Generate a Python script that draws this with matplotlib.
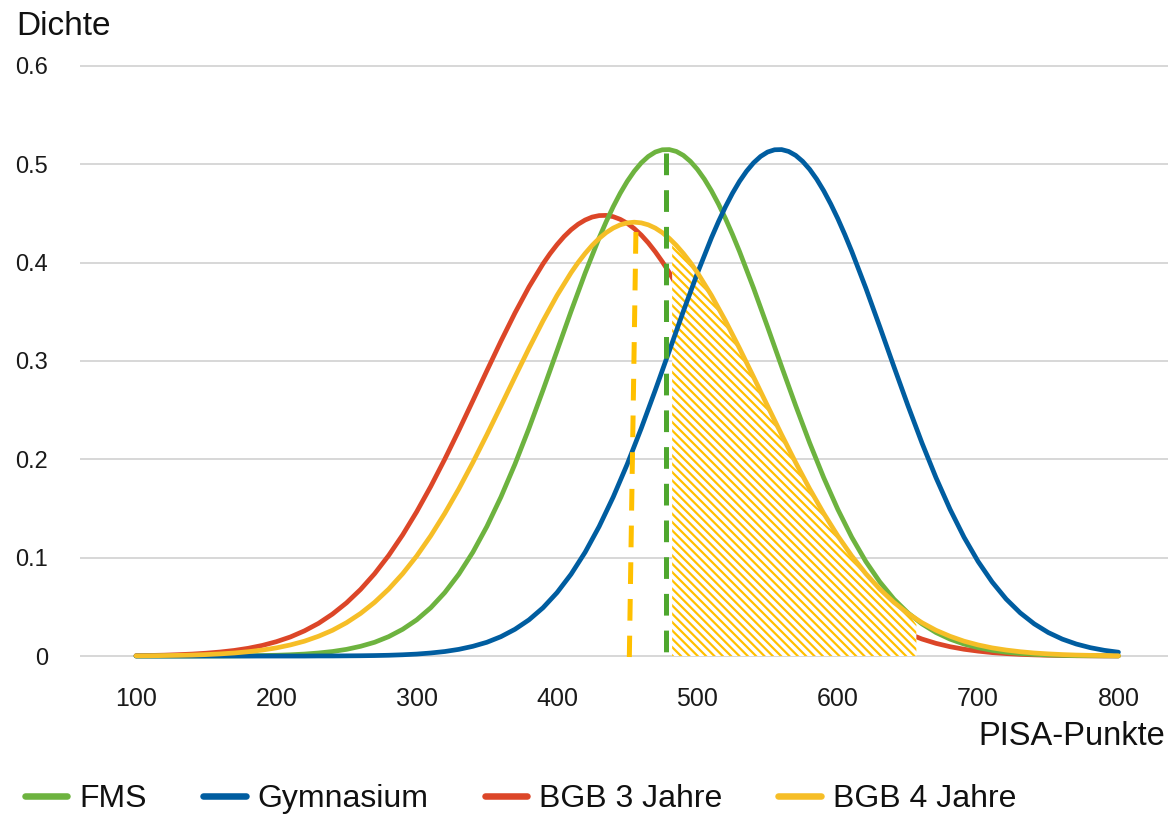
import matplotlib
matplotlib.use("Agg")
import matplotlib.pyplot as plt

plt.rcParams['font.family'] = ['Liberation Sans', 'DejaVu Sans']
plt.rcParams['hatch.linewidth'] = 1.6

# ---------------- data ----------------
pisa = list(range(100, 801, 10))

fms = [0.0000, 0.0000, 0.0000, 0.0000, 0.0000, 0.0001, 0.0001, 0.0002, 0.0003, 0.0005,
       0.0008, 0.0013, 0.0020, 0.0031, 0.0046, 0.0068, 0.0099, 0.0140, 0.0197, 0.0272,
       0.0368, 0.0491, 0.0645, 0.0832, 0.1055, 0.1317, 0.1616, 0.1950, 0.2315, 0.2703,
       0.3103, 0.3505, 0.3892, 0.4251, 0.4567, 0.4825, 0.5013, 0.5123, 0.5148, 0.5089,
       0.4947, 0.4729, 0.4447, 0.4112, 0.3740, 0.3345, 0.2942, 0.2546, 0.2166, 0.1813,
       0.1492, 0.1207, 0.0961, 0.0753, 0.0579, 0.0439, 0.0327, 0.0239, 0.0172, 0.0122,
       0.0085, 0.0058, 0.0039, 0.0026, 0.0017, 0.0011, 0.0007, 0.0004, 0.0003, 0.0002,
       0.0001]

gymnasium = [0.0000, 0.0000, 0.0000, 0.0000, 0.0000, 0.0000, 0.0000, 0.0000, 0.0000, 0.0000,
             0.0000, 0.0000, 0.0000, 0.0001, 0.0001, 0.0002, 0.0003, 0.0005, 0.0008, 0.0013,
             0.0020, 0.0031, 0.0046, 0.0068, 0.0099, 0.0140, 0.0197, 0.0272, 0.0368, 0.0491,
             0.0645, 0.0832, 0.1055, 0.1317, 0.1616, 0.1950, 0.2315, 0.2703, 0.3103, 0.3505,
             0.3892, 0.4251, 0.4567, 0.4825, 0.5013, 0.5123, 0.5148, 0.5089, 0.4947, 0.4729,
             0.4447, 0.4112, 0.3740, 0.3345, 0.2942, 0.2546, 0.2166, 0.1813, 0.1492, 0.1207,
             0.0961, 0.0753, 0.0579, 0.0439, 0.0327, 0.0239, 0.0172, 0.0122, 0.0085, 0.0058,
             0.0039]

bgb3 = [0.0004, 0.0006, 0.0009, 0.0014, 0.0020, 0.0029, 0.0041, 0.0057, 0.0079, 0.0108,
        0.0146, 0.0194, 0.0256, 0.0332, 0.0427, 0.0541, 0.0677, 0.0837, 0.1022, 0.1232,
        0.1467, 0.1724, 0.2001, 0.2293, 0.2595, 0.2900, 0.3200, 0.3487, 0.3752, 0.3987,
        0.4182, 0.4333, 0.4432, 0.4477, 0.4466, 0.4399, 0.4279, 0.4109, 0.3897, 0.3649,
        0.3375, 0.3081, 0.2778, 0.2474, 0.2175, 0.1888, 0.1619, 0.1370, 0.1145, 0.0945,
        0.0770, 0.0620, 0.0493, 0.0387, 0.0300, 0.0229, 0.0173, 0.0129, 0.0095, 0.0069,
        0.0050, 0.0035, 0.0025, 0.0017, 0.0012, 0.0008, 0.0005, 0.0003, 0.0002, 0.0001,
        0.0001]

bgb4 = [0.0002, 0.0003, 0.0005, 0.0007, 0.0010, 0.0015, 0.0022, 0.0031, 0.0044, 0.0061,
        0.0083, 0.0113, 0.0151, 0.0201, 0.0262, 0.0339, 0.0433, 0.0546, 0.0680, 0.0837,
        0.1017, 0.1222, 0.1450, 0.1699, 0.1967, 0.2250, 0.2542, 0.2837, 0.3128, 0.3407,
        0.3666, 0.3897, 0.4092, 0.4245, 0.4350, 0.4403, 0.4403, 0.4350, 0.4245, 0.4092,
        0.3897, 0.3666, 0.3407, 0.3128, 0.2837, 0.2542, 0.2250, 0.1967, 0.1699, 0.1450,
        0.1222, 0.1017, 0.0837, 0.0680, 0.0546, 0.0433, 0.0339, 0.0262, 0.0201, 0.0151,
        0.0113, 0.0083, 0.0061, 0.0044, 0.0031, 0.0022, 0.0015, 0.0010, 0.0007, 0.0005,
        0.0003]

# extra readings around the peaks (half-step positions)
fms_peak_x = [435, 445, 455, 465, 475, 485, 495, 505, 515, 525]
fms_peak_y = [0.4415, 0.4704, 0.4928, 0.5078, 0.5146, 0.5129, 0.5028, 0.4847, 0.4595, 0.4285]
gym_peak_x = [515, 525, 535, 545, 555, 565, 575, 585, 595, 605]
gym_peak_y = [0.4415, 0.4704, 0.4928, 0.5078, 0.5146, 0.5129, 0.5028, 0.4847, 0.4595, 0.4285]
bgb3_peak_x = [395, 405, 415, 425, 435, 445, 455, 465, 475]
bgb3_peak_y = [0.4090, 0.4264, 0.4389, 0.4462, 0.4479, 0.4439, 0.4345, 0.4200, 0.4008]
bgb4_peak_x = [415, 425, 435, 445, 455, 465, 475, 485, 495]
bgb4_peak_y = [0.4000, 0.4174, 0.4304, 0.4383, 0.4410, 0.4383, 0.4304, 0.4174, 0.4000]

# hatched area under BGB 4 Jahre
hatch_x = [482, 490, 500, 510, 520, 530, 540, 550, 560, 570, 580, 590, 600, 610,
           620, 630, 640, 650, 656]
hatch_top = [0.4218, 0.4092, 0.3897, 0.3666, 0.3407, 0.3128, 0.2837, 0.2542, 0.2250,
             0.1967, 0.1699, 0.1450, 0.1222, 0.1017, 0.0837, 0.0680, 0.0546, 0.0433,
             0.0320]

# dashed marker lines
fms_marker_x = [477.6, 477.6]
fms_marker_y = [0.511, 0.0]
bgb4_marker_x = [456.2, 451.5]
bgb4_marker_y = [0.431, -0.001]

labels = ['FMS', 'Gymnasium', 'BGB 3 Jahre', 'BGB 4 Jahre']
xticks = [100, 200, 300, 400, 500, 600, 700, 800]
yticks = [0, 0.1, 0.2, 0.3, 0.4, 0.5, 0.6]
ytick_labels = ['0', '0.1', '0.2', '0.3', '0.4', '0.5', '0.6']


def merged(xs, ys, extra_x, extra_y):
    pts = sorted(set(zip(xs, ys)) | set(zip(extra_x, extra_y)))
    return [p[0] for p in pts], [p[1] for p in pts]


# ---------------- colours ----------------
c_fms = '#6DB33F'
c_gym = '#005DA0'
c_bgb3 = '#DC4628'
c_bgb4 = '#F6BE27'
c_fms_dash = '#4EA72E'
c_bgb4_dash = '#FFC000'
c_grid = '#D4D4D4'

# ---------------- figure ----------------
W, H = 1169, 817
fig = plt.figure(figsize=(W / 100, H / 100), dpi=100)
ax_left, ax_right = 80, 1168
ax_top, ax_bottom = 62.8, 659.0
ax = fig.add_axes([ax_left / W, (H - ax_bottom) / H,
                   (ax_right - ax_left) / W, (ax_bottom - ax_top) / H])

lw = 3.4
style = dict(lw=lw, solid_capstyle='round', solid_joinstyle='round', clip_on=False)

x3, y3 = merged(pisa, bgb3, bgb3_peak_x, bgb3_peak_y)
l_bgb3, = ax.plot(x3, y3, color=c_bgb3, zorder=2, **style)
ax.fill_between(hatch_x, 0, hatch_top, facecolor='white', edgecolor=c_bgb4_dash,
                hatch='\\\\\\\\', linewidth=0, zorder=3)
xf, yf = merged(pisa, fms, fms_peak_x, fms_peak_y)
l_fms, = ax.plot(xf, yf, color=c_fms, zorder=4, **style)
xg, yg = merged(pisa, gymnasium, gym_peak_x, gym_peak_y)
l_gym, = ax.plot(xg, yg, color=c_gym, zorder=5, **style)
x4, y4 = merged(pisa, bgb4, bgb4_peak_x, bgb4_peak_y)
l_bgb4, = ax.plot(x4, y4, color=c_bgb4, zorder=6, **style)

ax.plot(fms_marker_x, fms_marker_y, color=c_fms_dash, lw=3.6, dashes=(4.34, 3.0),
        dash_capstyle='butt', zorder=7, clip_on=False)
ax.plot(bgb4_marker_x, bgb4_marker_y, color=c_bgb4_dash, lw=3.6, dashes=(4.34, 3.0),
        dash_capstyle='butt', zorder=7, clip_on=False)

ax.set_xlim(60.1, 835.3)
ax.set_ylim(-0.003, 0.603)
ax.set_xticks(xticks)
ax.set_xticklabels([str(v) for v in xticks])
ax.set_yticks(yticks)
ax.set_yticklabels(ytick_labels)
ax.tick_params(axis='both', length=0, colors='#1a1a1a')
ax.tick_params(axis='x', labelsize=18, pad=20)
ax.tick_params(axis='y', labelsize=17, pad=23)
for s in ax.spines.values():
    s.set_visible(False)
ax.yaxis.grid(True, color=c_grid, lw=1.3)
ax.xaxis.grid(False)
ax.set_axisbelow(True)

fig.text(16 / W, 1 - 35 / H, 'Dichte', fontsize=24, ha='left', va='baseline', color='#111111')
fig.text(1165 / W, 1 - 745 / H, 'PISA-Punkte', fontsize=23.5, ha='right', va='baseline', color='#111111')

leg = fig.legend([l_fms, l_gym, l_bgb3, l_bgb4], labels, loc='center left',
                 bbox_to_anchor=(25 / W, 1 - 799 / H), ncol=4, frameon=False,
                 fontsize=23, handlelength=1.33, handletextpad=0.38,
                 columnspacing=1.75, borderpad=0, borderaxespad=0)
for h in leg.legend_handles:
    h.set_linewidth(4.7)
    h.set_solid_capstyle('round')
for t in leg.get_texts():
    t.set_color('#111111')

fig.savefig('out.png', dpi=100)
